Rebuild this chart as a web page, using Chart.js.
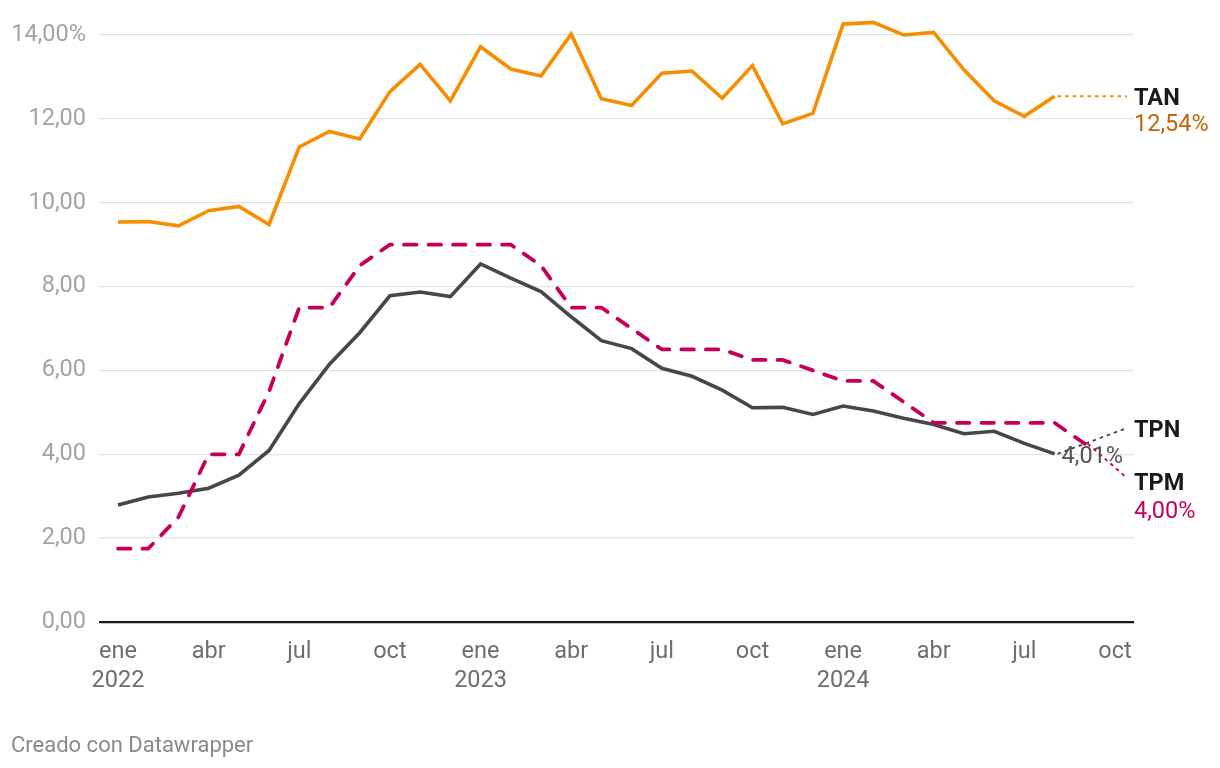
<!DOCTYPE html>
<html>
<head>
<meta charset="utf-8">
<script src="https://cdn.jsdelivr.net/npm/chart.js@4.4.1/dist/chart.umd.min.js"></script>
<style>
  html, body { margin: 0; padding: 0; background: #fff; }
  #wrap { position: relative; width: 1220px; height: 768px; }
  #footer { position: absolute; left: 11px; top: 732px; font: 22px Roboto, sans-serif; color: #8a8a8a; }
</style>
</head>
<body>
<div id="wrap">
  <canvas id="c" width="1220" height="768"></canvas>
  <div id="footer">Creado con Datawrapper</div>
</div>
<script>
// Month index 0 = ene 2022
const TAN = [9.54, 9.55, 9.45, 9.81, 9.91, 9.48, 11.33, 11.70, 11.52, 12.65, 13.30, 12.43,
             13.72, 13.19, 13.02, 14.02, 12.48, 12.32, 13.09, 13.14, 12.49, 13.27, 11.88, 12.13,
             14.26, 14.30, 14.00, 14.06, 13.17, 12.43, 12.06, 12.54];
const TPN = [2.79, 2.98, 3.07, 3.19, 3.50, 4.09, 5.21, 6.15, 6.90, 7.78, 7.87, 7.76,
             8.54, 8.20, 7.88, 7.28, 6.71, 6.52, 6.05, 5.86, 5.53, 5.11, 5.12, 4.95,
             5.15, 5.03, 4.86, 4.71, 4.49, 4.55, 4.26, 4.01];
const TPM = [1.75, 1.75, 2.5, 4, 4, 5.5, 7.5, 7.5, 8.5, 9, 9, 9,
             9, 9, 8.5, 7.5, 7.5, 7, 6.5, 6.5, 6.5, 6.25, 6.25, 6,
             5.75, 5.75, 5.25, 4.75, 4.75, 4.75, 4.75, 4.75, 4.25];
const tickMonths = [0, 3, 6, 9, 12, 15, 18, 21, 24, 27, 30, 33];
const tickLabels = [["ene","2022"],"abr","jul","oct",["ene","2023"],"abr","jul","oct",["ene","2024"],"abr","jul","oct"];
const yTicks = [0, 2, 4, 6, 8, 10, 12, 14];
const valueLabels = { TAN: "12,54%", TPN: "4,01%", TPM: "4,00%" };

const COLORS = { TAN: '#f78d00', TPN: '#474747', TPM: '#c6005a', TANtext: '#c2650a' };
const FONT = 'Roboto, sans-serif';
const FS = 23.5;

const toPts = arr => arr.map((v, i) => ({ x: i, y: v }));

const endLabels = {
  id: 'endLabels',
  beforeDatasetsDraw(chart) {
    const { ctx, scales: { x, y } } = chart;
    const endX = 1127;
    const conn = [
      { data: TAN, color: COLORS.TAN, endY: null },
      { data: TPN, color: COLORS.TPN, endY: 428 },
      { data: TPM, color: COLORS.TPM, endY: 478 }
    ];
    ctx.save();
    ctx.lineWidth = 1.9;
    ctx.setLineDash([3.5, 4]);
    conn.forEach(c => {
      const i = c.data.length - 1;
      const px = x.getPixelForValue(i), py = y.getPixelForValue(c.data[i]);
      ctx.strokeStyle = c.color;
      ctx.beginPath();
      ctx.moveTo(px + 3, py);
      ctx.lineTo(endX, c.endY === null ? py : c.endY);
      ctx.stroke();
    });
    ctx.restore();
  },
  afterDatasetsDraw(chart) {
    const { ctx, scales: { x, y } } = chart;
    const lx = 1134;
    ctx.save();
    ctx.textAlign = 'left';
    ctx.textBaseline = 'alphabetic';
    const tanY = y.getPixelForValue(TAN[TAN.length - 1]);
    ctx.font = 'bold ' + FS + 'px ' + FONT;
    ctx.fillStyle = '#1a1a1a';
    ctx.fillText('TAN', lx, tanY + 8.5);
    ctx.fillText('TPN', lx, 436.5);
    ctx.fillText('TPM', lx, 489.5);
    ctx.font = FS + 'px ' + FONT;
    ctx.fillStyle = COLORS.TANtext;
    ctx.fillText(valueLabels.TAN, lx, tanY + 35);
    ctx.fillStyle = COLORS.TPM;
    ctx.fillText(valueLabels.TPM, lx, 517.5);
    const ti = TPN.length - 1;
    const tx = x.getPixelForValue(ti), ty = y.getPixelForValue(TPN[ti]);
    ctx.fillStyle = '#555555';
    ctx.fillText(valueLabels.TPN, tx + 7, ty + 9);
    ctx.restore();
  }
};

new Chart(document.getElementById('c'), {
  type: 'line',
  data: {
    datasets: [
      { label: 'TAN', data: toPts(TAN), borderColor: COLORS.TAN, borderWidth: 3.6, pointRadius: 0, tension: 0, clip: false, borderJoinStyle: 'miter' },
      { label: 'TPM', data: toPts(TPM), borderColor: COLORS.TPM, borderWidth: 3.8, borderDash: [12.5, 12], borderCapStyle: 'round', pointRadius: 0, tension: 0, clip: false },
      { label: 'TPN', data: toPts(TPN), borderColor: COLORS.TPN, borderWidth: 3.6, pointRadius: 0, tension: 0, clip: false, borderJoinStyle: 'miter' }
    ]
  },
  options: {
    responsive: false,
    animation: false,
    events: [],
    layout: { padding: { left: 0, right: 86, top: 35, bottom: 0 } },
    plugins: { legend: { display: false }, tooltip: { enabled: false } },
    scales: {
      x: {
        type: 'linear',
        min: -0.629,
        max: 33.629,
        grid: { display: false, drawTicks: false },
        border: { display: false },
        afterBuildTicks: s => { s.ticks = tickMonths.map(v => ({ value: v })); },
        afterFit: s => { s.height = 146; },
        ticks: {
          autoSkip: false,
          maxRotation: 0,
          padding: 15,
          color: '#6e6e6e',
          font: { family: FONT, size: FS, lineHeight: 1.25 },
          callback: (v) => { const k = tickMonths.indexOf(v); return k >= 0 ? tickLabels[k] : ''; }
        }
      },
      y: {
        min: 0,
        max: 14,
        afterBuildTicks: s => { s.ticks = yTicks.map(v => ({ value: v })); },
        afterFit: s => { s.width = 99; },
        grid: {
          drawTicks: false,
          color: c => c.tick && c.tick.value === 0 ? '#1a1a1a' : '#e4e4e4',
          lineWidth: c => c.tick && c.tick.value === 0 ? 2.2 : 1.3
        },
        border: { display: false },
        ticks: {
          padding: 13,
          color: '#a3a3a3',
          font: { family: FONT, size: FS },
          callback: v => v.toFixed(2).replace('.', ',') + (v === 14 ? '%' : '')
        }
      }
    }
  },
  plugins: [endLabels]
});
</script>
</body>
</html>
